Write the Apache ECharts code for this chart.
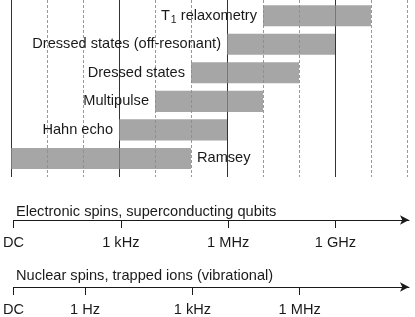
<!DOCTYPE html>
<html>
<head>
<meta charset="utf-8">
<script src="https://cdn.jsdelivr.net/npm/echarts@6/dist/echarts.min.js"></script>
<style>html,body{margin:0;padding:0;background:#fff;}#c{width:415px;height:317px;}</style>
</head>
<body>
<div id="c"></div>
<script>
// Rows (top to bottom) and their frequency ranges in decade units (DC = 0, 1 kHz = 3, 1 MHz = 6, 1 GHz = 9)
const rows = ['{n|T}{s|1}{n| relaxometry}', 'Dressed states (off-resonant)', 'Dressed states', 'Multipulse', 'Hahn echo', 'Ramsey'];
const barStart = [7, 6, 5, 4, 3, 0];
const barEnd = [10, 9, 8, 7, 6, 5];
const labelSide = ['left', 'left', 'left', 'left', 'left', 'right'];
const solidLines = [0, 3, 6, 9];
const dashedLines = [1, 2, 4, 5, 7, 8, 10, 11];
const elecTitle = 'Electronic spins, superconducting qubits';
const elecTicks = [0, 3, 6, 9];
const elecLabels = ['DC', '1 kHz', '1 MHz', '1 GHz'];
const nucTitle = 'Nuclear spins, trapped ions (vibrational)';
const nucTicks = [0, 2, 5, 8];
const nucLabels = ['DC', '1 Hz', '1 kHz', '1 MHz'];

const FONT = "'Liberation Sans', Arial, Helvetica, sans-serif";
const FS = 14.6;
const TXT = '#1a1a1a';
const chart = echarts.init(document.getElementById('c'), null, {renderer: 'canvas'});

function lowerAxis(idx, ticks, labels) {
  return {
    type: 'value', gridIndex: idx, min: 0, max: 11.056, position: 'bottom',
    splitLine: {show: false},
    axisLine: {show: true, symbol: ['none', 'arrow'], symbolSize: [7, 9], lineStyle: {color: TXT, width: 1}},
    axisTick: {show: true, length: 8, customValues: ticks, lineStyle: {color: TXT, width: 1}},
    axisLabel: {
      show: true, margin: 15, customValues: ticks, fontSize: FS, fontFamily: FONT, color: TXT,
      formatter: v => { const k = ticks.indexOf(v); return k >= 0 ? labels[k] : ''; }
    }
  };
}

const option = {
  animation: false,
  backgroundColor: '#fff',
  title: [
    {text: elecTitle, left: 16, top: 204, textStyle: {fontSize: FS, fontWeight: 'normal', fontFamily: FONT, color: TXT}, padding: 0},
    {text: nucTitle, left: 16, top: 268, textStyle: {fontSize: FS, fontWeight: 'normal', fontFamily: FONT, color: TXT}, padding: 0}
  ],
  grid: [
    {left: 11, top: 0, width: 396, height: 177},
    {left: 11, top: 219, width: 398, height: 1},
    {left: 11, top: 286, width: 398, height: 1}
  ],
  xAxis: [
    {type: 'value', gridIndex: 0, min: 0, max: 11, show: false},
    lowerAxis(1, elecTicks, elecLabels),
    lowerAxis(2, nucTicks, nucLabels)
  ],
  yAxis: [
    {type: 'value', gridIndex: 0, min: -0.55, max: 5.65, inverse: true, show: false},
    {type: 'value', gridIndex: 1, show: false},
    {type: 'value', gridIndex: 2, show: false}
  ],
  series: [
    {
      type: 'custom', xAxisIndex: 0, yAxisIndex: 0, z: 2, silent: true,
      data: rows.map((r, i) => [barStart[i], barEnd[i], i]),
      renderItem: function (params, api) {
        const i = params.dataIndex;
        const p0 = api.coord([api.value(0), api.value(2)]);
        const p1 = api.coord([api.value(1), api.value(2)]);
        const h = api.size([0, 0.74])[1];
        return {
          type: 'rect',
          shape: {x: p0[0], y: p0[1] - h / 2, width: p1[0] - p0[0], height: h},
          style: {fill: 'rgba(140,140,140,0.775)'},
          textContent: {
            style: {
              text: rows[i], fill: TXT, fontSize: FS, fontFamily: FONT,
              rich: {
                n: {fontSize: FS, fontFamily: FONT, fill: TXT, lineHeight: 17},
                s: {fontSize: 10.5, fontFamily: FONT, fill: TXT, lineHeight: 17, padding: [9, 0, 0, 1]}
              }
            }
          },
          textConfig: {position: labelSide[i], distance: 6}
        };
      },
      markLine: {
        z: 1, silent: true, symbol: ['none', 'none'], label: {show: false},
        data: solidLines.map(v => ({xAxis: v, lineStyle: {color: '#333', type: 'solid', width: 1}}))
          .concat(dashedLines.map(v => ({xAxis: v, lineStyle: {color: '#999', type: [3, 2], width: 1}})))
      }
    }
  ]
};
chart.setOption(option);
</script>
</body>
</html>
